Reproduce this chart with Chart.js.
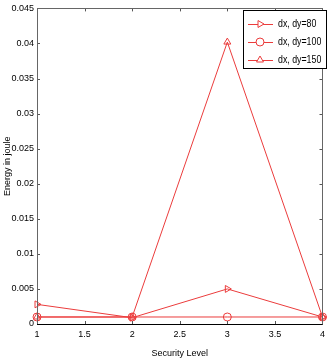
<!DOCTYPE html>
<html>
<head>
<meta charset="utf-8">
<script src="https://cdn.jsdelivr.net/npm/chart.js@4"></script>
<style>
  html, body { margin: 0; padding: 0; background: #fff; }
  #wrap { width: 330px; height: 359px; }
</style>
</head>
<body>
<div id="wrap"><canvas id="c"></canvas></div>
<script>
const levels = [1, 2, 3, 4];
const labels = ["dx, dy=80", "dx, dy=100", "dx, dy=150"];
const e80 = [0.0028, 0.0009, 0.0050, 0.0010];
const e100 = [0.0010, 0.0010, 0.0010, 0.0010];
const e150 = [0.0010, 0.0010, 0.0402, 0.0010];
const styles = [["triangle", 90], ["circle", 0], ["triangle", 0]];

const red = "rgb(235,60,60)";
const font = "'Liberation Sans'";

const toPts = (arr) => levels.map((x, i) => ({x: x, y: arr[i]}));
const series = [e80, e100, e150];

// 内向きの目盛りと枠線、凡例
const frame = {
  id: "frame",
  afterDraw(chart) {
    const ctx = chart.ctx, a = chart.chartArea;
    const xs = chart.scales.x, ys = chart.scales.y;
    ctx.save();
    ctx.strokeStyle = "#555";
    ctx.lineWidth = 1;
    ctx.beginPath();
    xs.ticks.forEach((t) => {
      const px = Math.round(xs.getPixelForValue(t.value)) + 0.5;
      ctx.moveTo(px, a.bottom); ctx.lineTo(px, a.bottom - 3);
      ctx.moveTo(px, a.top); ctx.lineTo(px, a.top + 3);
    });
    ys.ticks.forEach((t) => {
      const py = Math.round(ys.getPixelForValue(t.value)) + 0.5;
      ctx.moveTo(a.left, py); ctx.lineTo(a.left + 3, py);
      ctx.moveTo(a.right, py); ctx.lineTo(a.right - 3, py);
    });
    ctx.stroke();
    ctx.strokeStyle = "#666";
    ctx.strokeRect(Math.round(a.left) + 0.5, Math.round(a.top) + 0.5, Math.round(a.right - a.left), Math.round(a.bottom - a.top));
    ctx.strokeStyle = "#000";
    ctx.beginPath();
    ctx.moveTo(a.left, Math.round(a.bottom) + 0.5);
    ctx.lineTo(a.right, Math.round(a.bottom) + 0.5);
    ctx.stroke();

    // 凡例
    const bx = 243, by = 10, bw = 83, bh = 58;
    ctx.fillStyle = "#fff";
    ctx.fillRect(bx, by, bw, bh);
    ctx.strokeStyle = "#000";
    ctx.strokeRect(bx + 0.5, by + 0.5, bw, bh);
    ctx.textBaseline = "middle";
    chart.data.datasets.forEach((ds, i) => {
      const ly = by + 14 + i * 18;
      ctx.strokeStyle = red;
      ctx.beginPath();
      ctx.moveTo(bx + 5, ly + 0.5); ctx.lineTo(bx + 30, ly + 0.5);
      ctx.stroke();
      ctx.fillStyle = "#fff";
      ctx.strokeStyle = red;
      Chart.helpers.drawPoint(ctx, {pointStyle: ds.pointStyle, rotation: ds.pointRotation, radius: 4, borderWidth: 1}, bx + 17, ly);
      ctx.fillStyle = "#000";
      ctx.save();
      ctx.translate(bx + 35, ly);
      ctx.scale(0.8, 1);
      ctx.font = "11px " + font;
      ctx.fillText(ds.label, 0, 0);
      ctx.restore();
    });
    ctx.restore();
  }
};

new Chart(document.getElementById("c"), {
  type: "line",
  data: {
    datasets: series.map((s, i) => ({
      label: labels[i],
      data: toPts(s),
      borderColor: red,
      backgroundColor: "rgba(0,0,0,0)",
      borderWidth: 1,
      pointStyle: styles[i][0],
      pointRotation: styles[i][1],
      pointRadius: 4,
      pointBorderColor: red,
      pointBorderWidth: 1,
      tension: 0,
      clip: false
    }))
  },
  options: {
    responsive: true,
    maintainAspectRatio: false,
    animation: false,
    layout: {padding: {top: 5, right: 4, left: 2, bottom: 0}},
    plugins: {legend: {display: false}, tooltip: {enabled: false}},
    scales: {
      x: {
        type: "linear", min: 1, max: 4,
        grid: {display: false, drawTicks: false, tickLength: 0},
        border: {display: false},
        ticks: {stepSize: 0.5, color: "#000", padding: 5, font: {family: font, size: 9},
          callback: (v) => String(+v.toFixed(1))},
        title: {display: true, text: "Security Level", color: "#000", padding: 0, font: {family: font, size: 9}},
        afterFit: (s) => { s.height = 35; }
      },
      y: {
        min: 0, max: 0.045,
        grid: {display: false, drawTicks: false, tickLength: 0},
        border: {display: false},
        ticks: {stepSize: 0.005, color: "#000", padding: 3, font: {family: font, size: 9},
          callback: (v) => String(+v.toFixed(3))},
        title: {display: true, text: "Energy in joule", color: "#000", padding: 0, font: {family: font, size: 9}},
        afterFit: (s) => { s.width = 35; }
      }
    }
  },
  plugins: [frame]
});
</script>
</body>
</html>
